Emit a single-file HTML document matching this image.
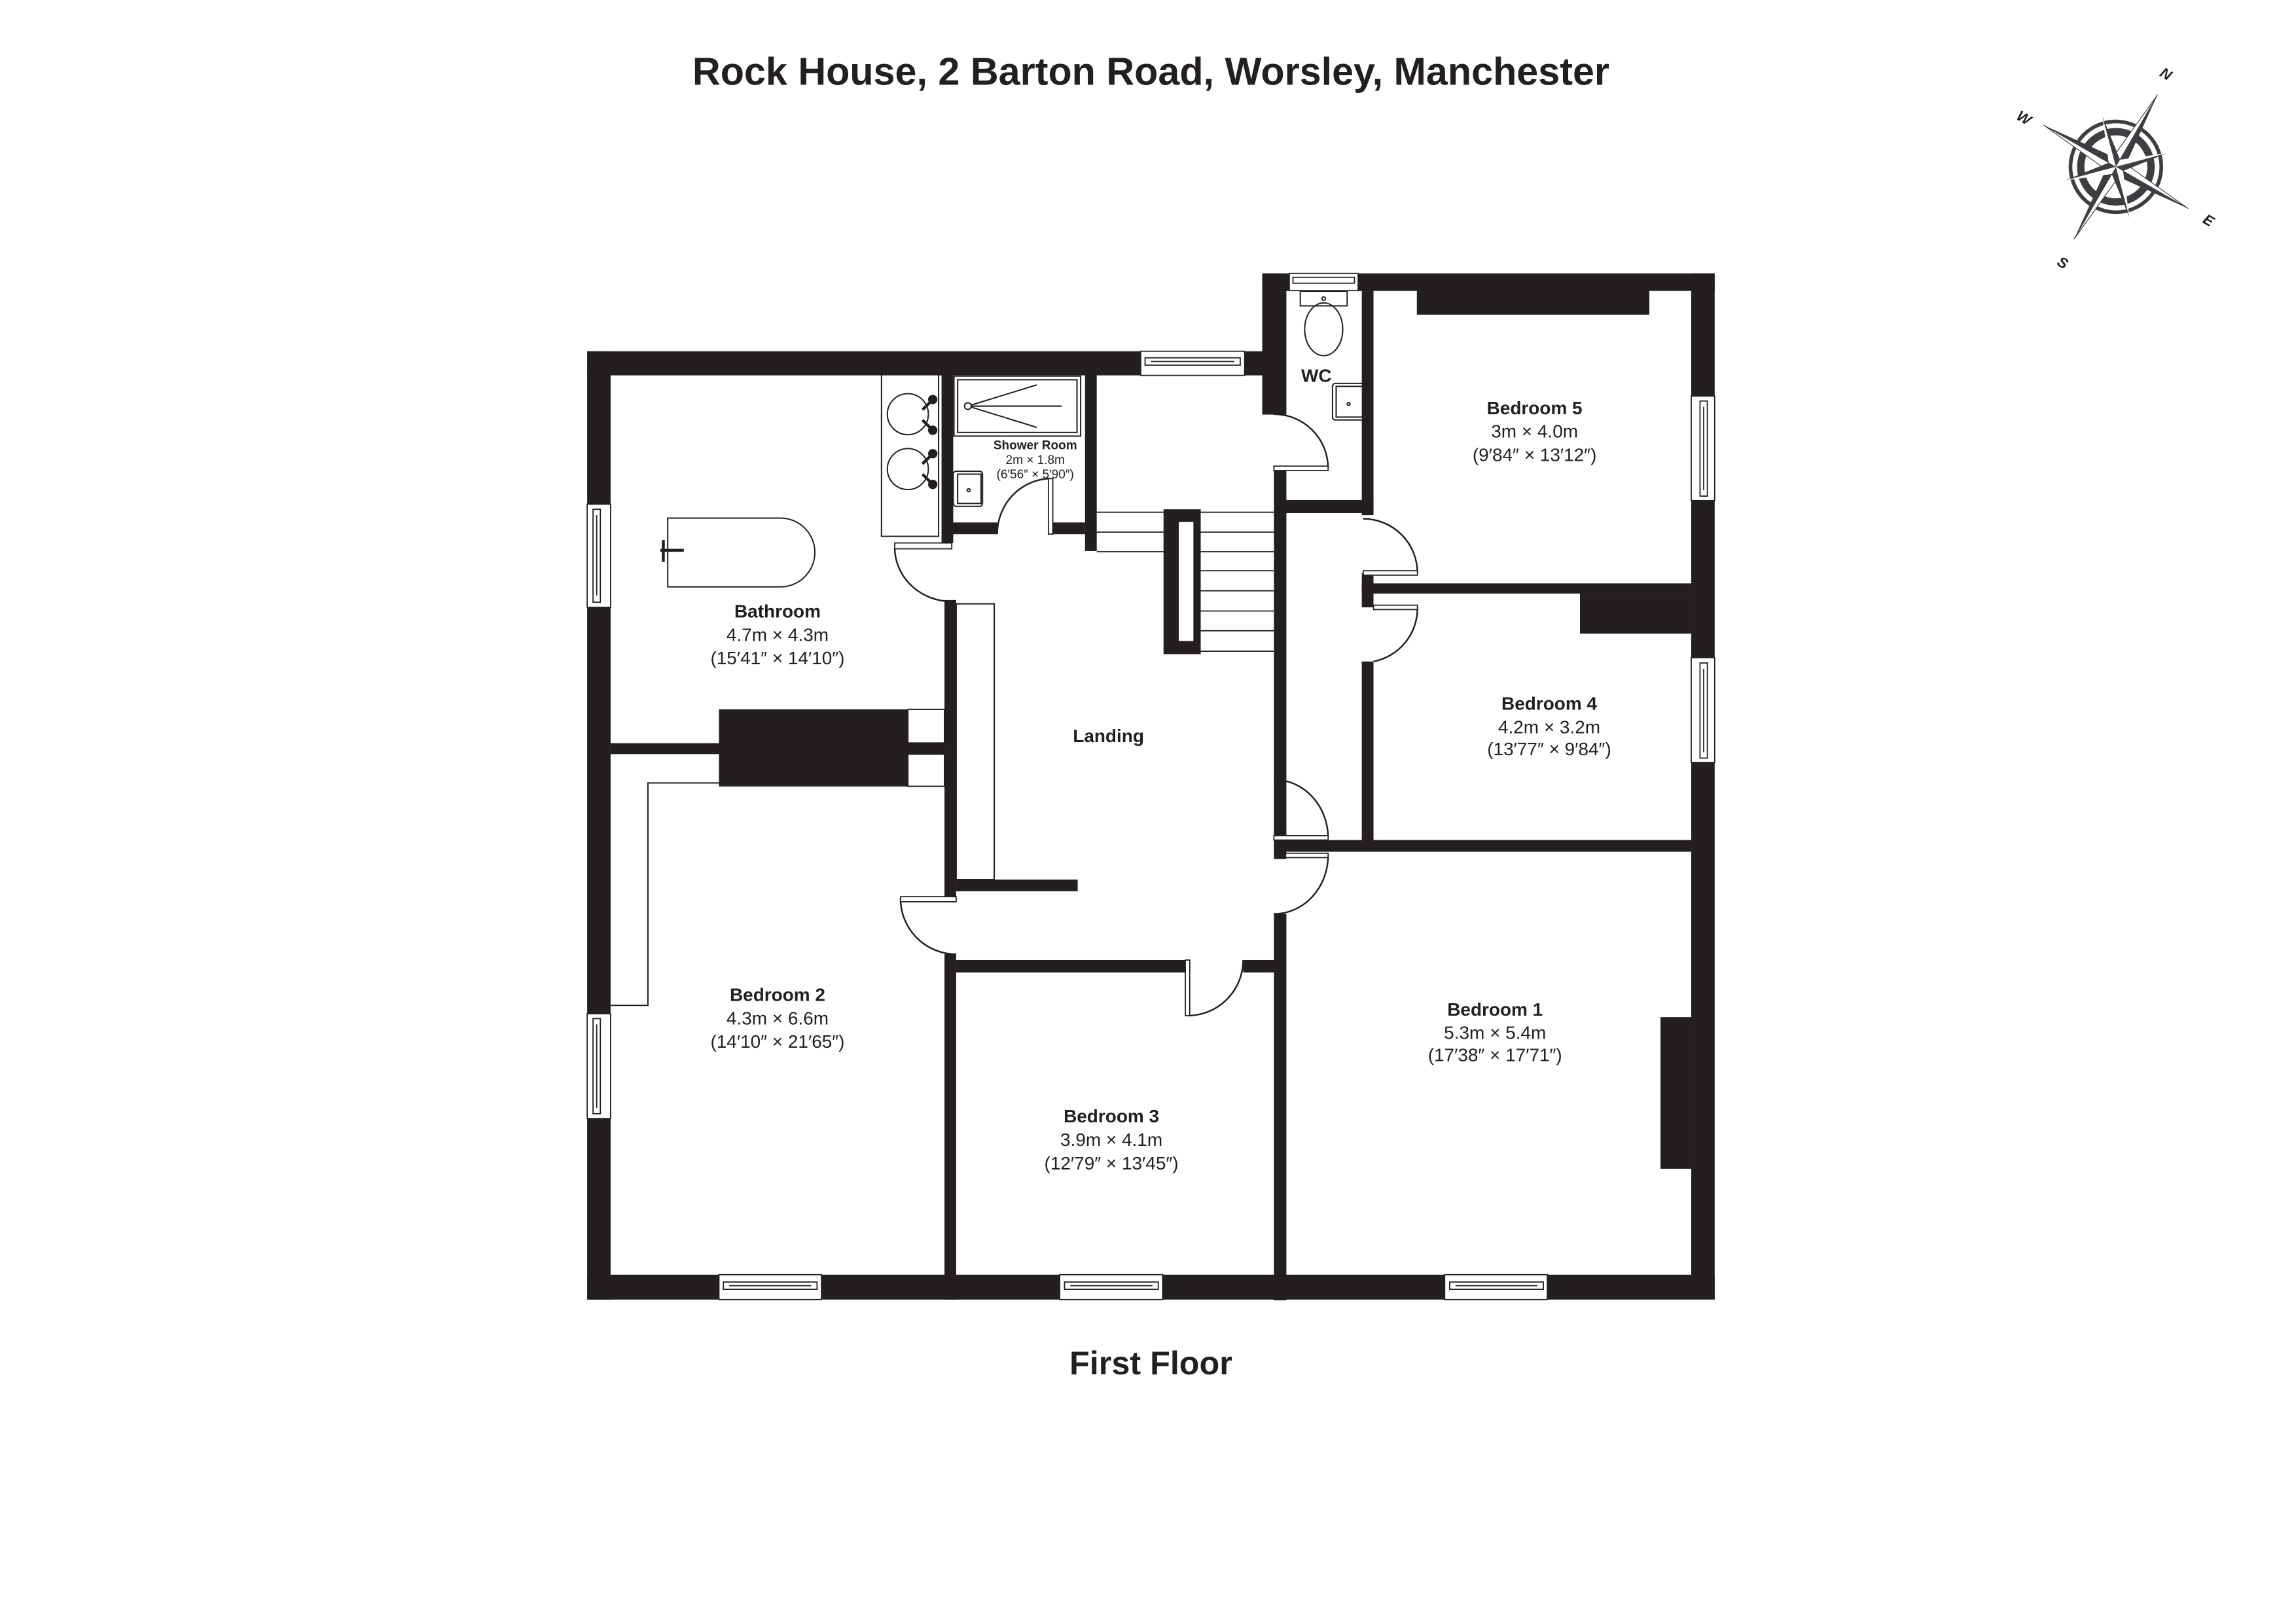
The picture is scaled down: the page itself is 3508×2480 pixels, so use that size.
<!DOCTYPE html>
<html><head><meta charset="utf-8"><style>
html,body{margin:0;padding:0;background:#fff;}
svg{display:block;}
text{font-family:"Liberation Sans",Arial,sans-serif;fill:#231f20;}
.b{font-weight:bold;}
</style></head><body>
<svg width="3508" height="2480" viewBox="0 0 1568 1109" preserveAspectRatio="none" xmlns="http://www.w3.org/2000/svg">
<rect x="0" y="0" width="1568" height="1109" fill="#fff"/>
<text x="786" y="58" text-anchor="middle" class="b" font-size="26.5">Rock House, 2 Barton Road, Worsley, Manchester</text>
<text x="786" y="939" text-anchor="middle" class="b" font-size="22.5">First Floor</text>

<g transform="translate(1445,114) rotate(30)" fill="#3d3d42">
  <circle r="31" fill="none" stroke="#3d3d42" stroke-width="2.5"/>
  <circle r="24" fill="none" stroke="#3d3d42" stroke-width="5"/>
  <g>
    <polygon points="0,-57 5,-5 0,0"/><polygon points="0,-57 -5,-5 0,0" fill="#fff" stroke="#3d3d42" stroke-width="0.5"/>
    <polygon points="57,0 5,5 0,0"/><polygon points="57,0 5,-5 0,0" fill="#fff" stroke="#3d3d42" stroke-width="0.5"/>
    <polygon points="0,57 -5,5 0,0"/><polygon points="0,57 5,5 0,0" fill="#fff" stroke="#3d3d42" stroke-width="0.5"/>
    <polygon points="-57,0 -5,-5 0,0"/><polygon points="-57,0 -5,5 0,0" fill="#fff" stroke="#3d3d42" stroke-width="0.5"/>
  </g>
  <g transform="rotate(45)">
    <polygon points="0,-36 4,-4 0,0"/><polygon points="36,0 4,4 0,0"/><polygon points="0,36 -4,4 0,0"/><polygon points="-36,0 -4,-4 0,0"/>
    <polygon points="0,-36 -4,-4 0,0" fill="#fff"/><polygon points="36,0 4,-4 0,0" fill="#fff"/><polygon points="0,36 4,4 0,0" fill="#fff"/><polygon points="-36,0 -4,4 0,0" fill="#fff"/>
  </g>
</g>
<g font-size="10" font-style="italic" class="b" text-anchor="middle">
<text x="1479.5" y="54" transform="rotate(30 1479.5 50)" fill="#3d3d42">N</text>
<text x="1508.6" y="154" transform="rotate(30 1508.6 150)" fill="#3d3d42">E</text>
<text x="1409" y="183" transform="rotate(30 1409 179)" fill="#3d3d42">S</text>
<text x="1382.5" y="84" transform="rotate(30 1382.5 80)" fill="#3d3d42">W</text>
</g>

<g fill="#231f20">
<rect x="401" y="240" width="470" height="16.5"/>
<rect x="401" y="240" width="16" height="648"/>
<rect x="401" y="871" width="770" height="17"/>
<rect x="1155" y="186.8" width="16" height="701"/>
<rect x="862" y="186.8" width="309" height="12"/>
<rect x="862" y="186.8" width="16.5" height="96.5"/>
<rect x="870" y="321" width="8.5" height="251.7"/>
<rect x="870" y="568" width="8.5" height="19"/>
<rect x="870" y="624.5" width="8.5" height="264"/>
<rect x="930" y="197" width="8" height="155"/>
<rect x="878" y="341.6" width="60" height="9"/>
<rect x="930" y="391.5" width="8" height="23.5"/>
<rect x="930" y="398.6" width="225" height="7"/>
<rect x="930" y="452" width="8" height="130"/>
<rect x="878" y="574" width="277" height="8"/>
<rect x="967.6" y="198" width="158.8" height="17"/>
<rect x="1079" y="405.6" width="76" height="27.4"/>
<rect x="1134" y="695" width="21" height="103.6"/>
<rect x="417" y="507.8" width="228" height="7.5"/>
<rect x="491" y="484.7" width="129" height="52.7"/>
<rect x="643" y="256" width="8" height="115"/>
<rect x="645" y="410" width="8" height="203"/>
<rect x="645" y="652" width="8" height="236"/>
<rect x="741" y="256" width="8" height="120.5"/>
<rect x="650" y="357" width="31" height="8"/>
<rect x="718" y="357" width="23" height="8"/>
<rect x="653" y="601" width="83" height="8"/>
<rect x="653" y="656" width="158" height="8.5"/>
<rect x="849" y="656" width="21.5" height="8.5"/>
<rect x="794.6" y="348" width="25.4" height="99"/>
</g>
<rect x="805" y="356.7" width="10" height="81.3" fill="#fff"/>

<g fill="none" stroke="#231f20" stroke-width="0.9">
<rect x="620" y="484.7" width="25" height="23"/>
<rect x="620" y="515.3" width="25" height="22"/>
<rect x="653" y="412.6" width="26" height="188.4"/>
<polyline points="417,687 442.5,687 442.5,535 491,535"/>
<rect x="602" y="255.5" width="39" height="111"/>
<circle cx="620" cy="283" r="14"/><circle cx="620" cy="320.5" r="14"/>
<rect x="651.5" y="257" width="86.5" height="41"/>
<rect x="654" y="259.5" width="81.5" height="36"/>
<polyline points="708,263 661,277.5 708,292"/><line x1="661" y1="277.5" x2="725" y2="277.5"/>
<circle cx="661" cy="277.5" r="2.3" fill="#fff"/>
<rect x="651" y="322" width="20" height="24" rx="2"/>
<rect x="654" y="324" width="16" height="20"/>
<circle cx="661.5" cy="335" r="1"/>
<path d="M456,354 H533 A23.5,23.5 0 0 1 533,401 H456 Z"/>
<rect x="888" y="199" width="32" height="10"/>
<ellipse cx="904" cy="225" rx="13" ry="18"/>
<circle cx="904" cy="204" r="1.2"/>
<rect x="910" y="262" width="22" height="25" rx="2"/>
<rect x="912.5" y="264" width="19.5" height="21"/>
<circle cx="921" cy="276" r="1"/>
<g stroke-width="0.8">
<line x1="749" y1="350" x2="794.6" y2="350"/><line x1="749" y1="363.6" x2="794.6" y2="363.6"/><line x1="749" y1="377" x2="794.6" y2="377"/>
<line x1="820" y1="350" x2="870" y2="350"/><line x1="820" y1="363.6" x2="870" y2="363.6"/><line x1="820" y1="377" x2="870" y2="377"/>
<line x1="820" y1="390" x2="870" y2="390"/><line x1="820" y1="403.7" x2="870" y2="403.7"/><line x1="820" y1="417.5" x2="870" y2="417.5"/>
<line x1="820" y1="431" x2="870" y2="431"/><line x1="820" y1="445" x2="870" y2="445"/>
</g>
<g stroke-width="1.1">
<path d="M907,320 A37,37 0 0 0 870,283"/>
<path d="M968,391.5 A37,37 0 0 0 931,354.5"/>
<path d="M968,415 A37,37 0 0 1 938,452"/>
<path d="M907,572.7 A37,40 0 0 0 870,532.7"/>
<path d="M907,584.5 A37,40 0 0 1 870,624.5"/>
<path d="M611,374 A39,37 0 0 0 650,411"/>
<path d="M615,614 A38,38 0 0 0 653,652"/>
<path d="M811,694 A38,38 0 0 0 849,656"/>
<path d="M718,327 A37,38 0 0 0 681,365"/>
</g>
</g>
<g stroke="#231f20" stroke-width="2" fill="#231f20">
<line x1="630" y1="280" x2="636" y2="274"/><circle cx="637" cy="273" r="2.2"/>
<line x1="630" y1="287" x2="636" y2="293"/><circle cx="637" cy="294" r="2.2"/>
<line x1="630" y1="317" x2="636" y2="311"/><circle cx="637" cy="310" r="2.2"/>
<line x1="630" y1="324" x2="636" y2="330"/><circle cx="637" cy="331" r="2.2"/>
<line x1="451" y1="376" x2="467" y2="376"/><line x1="453" y1="369" x2="453" y2="384"/>
</g>
<g fill="#fff" stroke="#231f20" stroke-width="0.8">
<rect x="870" y="318.5" width="37" height="3"/>
<rect x="931" y="390" width="37" height="3"/>
<rect x="938" y="413.5" width="30" height="3"/>
<rect x="870" y="571" width="37" height="3"/>
<rect x="878" y="583" width="29" height="3"/>
<rect x="611" y="371" width="39" height="4"/>
<rect x="615" y="612.7" width="38" height="3.5"/>
<rect x="809.5" y="656" width="3" height="38"/>
<rect x="716" y="327" width="3" height="38"/>
</g>
<g fill="#fff" stroke="#231f20" stroke-width="0.8">
<rect x="779" y="240" width="71" height="16.5"/><rect x="782" y="244.5" width="65" height="5"/><line x1="786" y1="247" x2="843" y2="247"/>
<rect x="880.5" y="186.8" width="47" height="11.8"/><rect x="883" y="189.5" width="42" height="4"/>
<rect x="401" y="344.5" width="16" height="70.5"/><rect x="405" y="348" width="5" height="63.5"/><line x1="407.5" y1="352" x2="407.5" y2="407"/>
<rect x="401" y="692.7" width="16" height="71.6"/><rect x="405" y="696" width="5" height="65"/><line x1="407.5" y1="700" x2="407.5" y2="757"/>
<rect x="491" y="871" width="70" height="17"/><rect x="494" y="876" width="64" height="5"/><line x1="498" y1="878.5" x2="554" y2="878.5"/>
<rect x="723.7" y="871" width="70.3" height="17"/><rect x="727" y="876" width="64" height="5"/><line x1="731" y1="878.5" x2="787" y2="878.5"/>
<rect x="986.6" y="871" width="70.1" height="17"/><rect x="990" y="876" width="64" height="5"/><line x1="994" y1="878.5" x2="1050" y2="878.5"/>
<rect x="1155" y="270.6" width="16" height="71.4"/><rect x="1161" y="274" width="5" height="65"/><line x1="1163.5" y1="278" x2="1163.5" y2="335"/>
<rect x="1155" y="449.4" width="16" height="71.6"/><rect x="1161" y="453" width="5" height="65"/><line x1="1163.5" y1="457" x2="1163.5" y2="514"/>
</g>

<g text-anchor="middle" font-size="12.5">
<text x="531" y="422" class="b">Bathroom</text><text x="531" y="438">4.7m × 4.3m</text><text x="531" y="454">(15′41″ × 14′10″)</text>
<text x="1048" y="283" class="b">Bedroom 5</text><text x="1048" y="299">3m × 4.0m</text><text x="1048" y="315">(9′84″ × 13′12″)</text>
<text x="1058" y="485" class="b">Bedroom 4</text><text x="1058" y="501">4.2m × 3.2m</text><text x="1058" y="516">(13′77″ × 9′84″)</text>
<text x="757" y="507" class="b">Landing</text>
<text x="531" y="684" class="b">Bedroom 2</text><text x="531" y="700">4.3m × 6.6m</text><text x="531" y="716">(14′10″ × 21′65″)</text>
<text x="759" y="767" class="b">Bedroom 3</text><text x="759" y="783">3.9m × 4.1m</text><text x="759" y="799">(12′79″ × 13′45″)</text>
<text x="1021" y="694" class="b">Bedroom 1</text><text x="1021" y="710">5.3m × 5.4m</text><text x="1021" y="725">(17′38″ × 17′71″)</text>
<text x="899" y="261" class="b">WC</text>
</g>
<g text-anchor="middle" font-size="8.5">
<text x="707" y="307" class="b">Shower Room</text><text x="707" y="317">2m × 1.8m</text><text x="707" y="327">(6′56″ × 5′90″)</text>
</g>
</svg>
</body></html>
